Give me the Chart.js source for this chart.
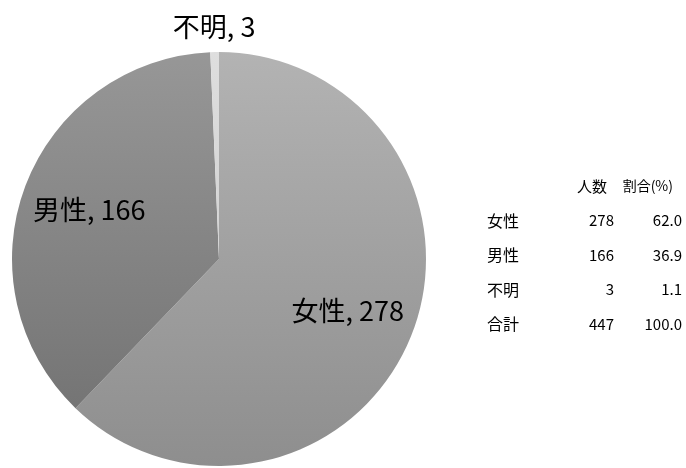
<!DOCTYPE html>
<html>
<head>
<meta charset="utf-8">
<script src="https://cdn.jsdelivr.net/npm/chart.js@4"></script>
<style>
  html, body { margin: 0; padding: 0; background: #fff; }
  #wrap { position: relative; width: 686px; height: 468px; }
  #pie { position: absolute; left: 0; top: 0; }
  #summary {
    position: absolute; left: 480px; top: 168px;
    font-family: "Noto Sans CJK JP", "DejaVu Sans", sans-serif;
    font-size: 15px; color: #000; border-collapse: collapse;
  }
  #summary td, #summary th { padding: 0; height: 34.5px; font-weight: normal; }
  #summary .name { width: 90px; text-align: left; padding-left: 7px; font-size: 16px; }
  #summary .num { width: 37px; text-align: right; font-size: 15px; }
  #summary .pct { width: 68px; text-align: right; font-size: 15px; }
  #summary th.num { padding-right: 7px; width: 30px; font-size: 15px; }
  #summary th.pct { padding-right: 9px; width: 59px; font-size: 14px; }
</style>
</head>
<body>
<div id="wrap">
  <canvas id="pie" width="686" height="468"></canvas>
  <table id="summary"></table>
</div>
<script>
const categories = ['女性', '男性', '不明'];
const counts = [278, 166, 3];
const percents = ['62.0', '36.9', '1.1'];
const totalLabel = '合計';
const totalCount = 447;
const totalPercent = '100.0';
const headers = ['', '人数', '割合(%)'];

// top / bottom shades for each slice (lighter at top like the original)
const shades = [
    ['#b3b3b3', '#8e8e8e'],
    ['#979797', '#6f6f6f'],
    ['#dedede', '#c6c6c6']
];

function sliceColor(context) {
    const chart = context.chart;
    const area = chart.chartArea;
    const pair = shades[context.dataIndex];
    if (!area) return pair[0];
    const g = chart.ctx.createLinearGradient(0, area.top, 0, area.bottom);
    g.addColorStop(0, pair[0]);
    g.addColorStop(1, pair[1]);
    return g;
}

// label positions as fraction of radius (outside for the tiny slice)
const labelRadius = [0.67, 0.67, 1.12];

const pieLabels = {
    id: 'pieLabels',
    afterDatasetsDraw(chart) {
        const ctx = chart.ctx;
        const meta = chart.getDatasetMeta(0);
        ctx.save();
        ctx.fillStyle = '#000';
        ctx.textAlign = 'center';
        ctx.textBaseline = 'middle';
        meta.data.forEach((arc, i) => {
            const mid = (arc.startAngle + arc.endAngle) / 2;
            const r = arc.outerRadius * labelRadius[i];
            const x = arc.x + Math.cos(mid) * r;
            const y = arc.y + Math.sin(mid) * r;
            ctx.font = '27px "Noto Sans CJK JP", sans-serif';
            ctx.fillText(categories[i] + ', ' + counts[i], x, y);
        });
        ctx.restore();
    }
};

new Chart(document.getElementById('pie'), {
    type: 'pie',
    data: {
        labels: categories,
        datasets: [{
            data: counts,
            backgroundColor: sliceColor,
            borderWidth: 0,
            hoverOffset: 0
        }]
    },
    options: {
        responsive: false,
        animation: false,
        layout: {
            padding: { left: 12, right: 260, top: 52, bottom: 2 }
        },
        plugins: {
            legend: { display: false },
            tooltip: { enabled: false }
        }
    },
    plugins: [pieLabels]
});

// summary table on the right
const table = document.getElementById('summary');
let html = '<tr><th class="name">' + headers[0] + '</th><th class="num">' + headers[1] +
    '</th><th class="pct">' + headers[2] + '</th></tr>';
categories.forEach((c, i) => {
    html += '<tr><td class="name">' + c + '</td><td class="num">' + counts[i] +
        '</td><td class="pct">' + percents[i] + '</td></tr>';
});
html += '<tr><td class="name">' + totalLabel + '</td><td class="num">' + totalCount +
    '</td><td class="pct">' + totalPercent + '</td></tr>';
table.innerHTML = html;
</script>
</body>
</html>
